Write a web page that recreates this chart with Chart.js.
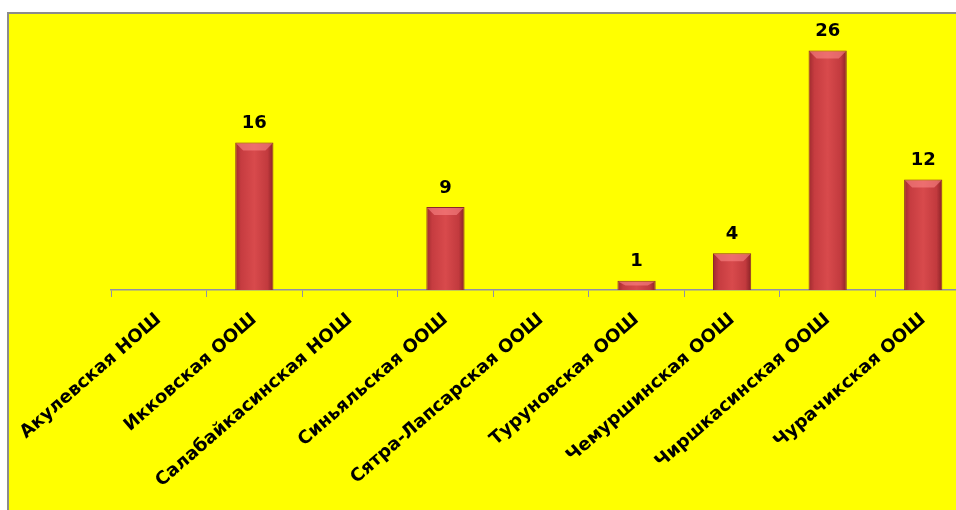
<!DOCTYPE html>
<html>
<head>
<meta charset="utf-8">
<script src="https://cdn.jsdelivr.net/npm/chart.js@4"></script>
<style>
  html, body { margin: 0; padding: 0; background: #fff; overflow: hidden; width: 956px; height: 510px; }
  #box {
    position: absolute; left: 7px; top: 12px;
    width: 975px; height: 505px;
    border: 2px solid #8c8c8c;
    background: #ffff00;
  }
</style>
</head>
<body>
<div id="box"><canvas id="schoolChart"></canvas></div>
<script>
var schools = [
  'Акулевская НОШ',
  'Икковская ООШ',
  'Салабайкасинская НОШ',
  'Синьяльская ООШ',
  'Сятра-Лапсарская ООШ',
  'Туруновская ООШ',
  'Чемуршинская ООШ',
  'Чиршкасинская ООШ',
  'Чурачикская ООШ'
];
var pupils = [0, 16, 0, 9, 0, 1, 4, 26, 12];

// bar fill: dark edges, lighter middle
function barFill(context) {
  var chart = context.chart;
  if (!chart.chartArea || context.dataIndex === undefined) return '#c83c40';
  var x = chart.scales.x.getPixelForValue(context.dataIndex);
  var half = 19;
  var g = chart.ctx.createLinearGradient(x - half, 0, x + half, 0);
  g.addColorStop(0, '#9e2a2e');
  g.addColorStop(0.15, '#c63c40');
  g.addColorStop(0.5, '#d84a4c');
  g.addColorStop(0.85, '#c23a3e');
  g.addColorStop(1, '#8a2226');
  return g;
}

// values above bars (skip zeros) + small bevel on bar tops
const valueLabels = {
  id: 'valueLabels',
  afterDatasetsDraw(chart) {
    var ctx = chart.ctx;
    var meta = chart.getDatasetMeta(0);
    ctx.save();
    meta.data.forEach((bar, i) => {
      if (!pupils[i]) return;
      var w = bar.width / 2;
      var bev = Math.min(8, (bar.base - bar.y) / 2);
      ctx.fillStyle = 'rgba(255,140,140,0.55)';
      ctx.beginPath();
      ctx.moveTo(bar.x - w + 1, bar.y + 1);
      ctx.lineTo(bar.x + w - 1, bar.y + 1);
      ctx.lineTo(bar.x + w - 8, bar.y + bev);
      ctx.lineTo(bar.x - w + 8, bar.y + bev);
      ctx.closePath();
      ctx.fill();
    });
    ctx.font = 'bold 18px "DejaVu Sans"';
    ctx.fillStyle = '#000';
    ctx.textAlign = 'center';
    ctx.textBaseline = 'bottom';
    meta.data.forEach((bar, i) => {
      if (!pupils[i]) return;
      ctx.fillText(pupils[i], bar.x, bar.y - 10);
    });
    ctx.restore();
  }
};

var schoolChart = new Chart(
  document.getElementById('schoolChart'),
  {
    type: 'bar',
    data: {
      labels: schools,
      datasets: [{
        data: pupils,
        backgroundColor: barFill,
        borderColor: '#8a2a2a',
        borderWidth: 1,
        barPercentage: 0.4,
        categoryPercentage: 1.0
      }]
    },
    options: {
      responsive: true,
      maintainAspectRatio: false,
      animation: false,
      layout: { padding: { top: 18, right: 13, left: 102, bottom: 0 } },
      plugins: {
        legend: { display: false },
        tooltip: { enabled: false }
      },
      scales: {
        x: {
          offset: true,
          afterFit(scale) {
            scale.paddingLeft = 0;
            scale.paddingRight = 0;
            scale.height = 229;
          },
          border: { display: true, color: '#9090a8', width: 1.5 },
          grid: {
            display: true,
            offset: true,
            drawOnChartArea: false,
            drawTicks: true,
            tickLength: 7,
            color: '#9090a8'
          },
          ticks: {
            autoSkip: false,
            maxRotation: 41,
            minRotation: 41,
            padding: 12,
            color: '#000',
            font: { family: '"DejaVu Sans"', weight: 'bold', size: 18 }
          }
        },
        y: {
          display: false,
          min: 0,
          max: 28
        }
      }
    },
    plugins: [valueLabels]
  }
);
</script>
</body>
</html>
